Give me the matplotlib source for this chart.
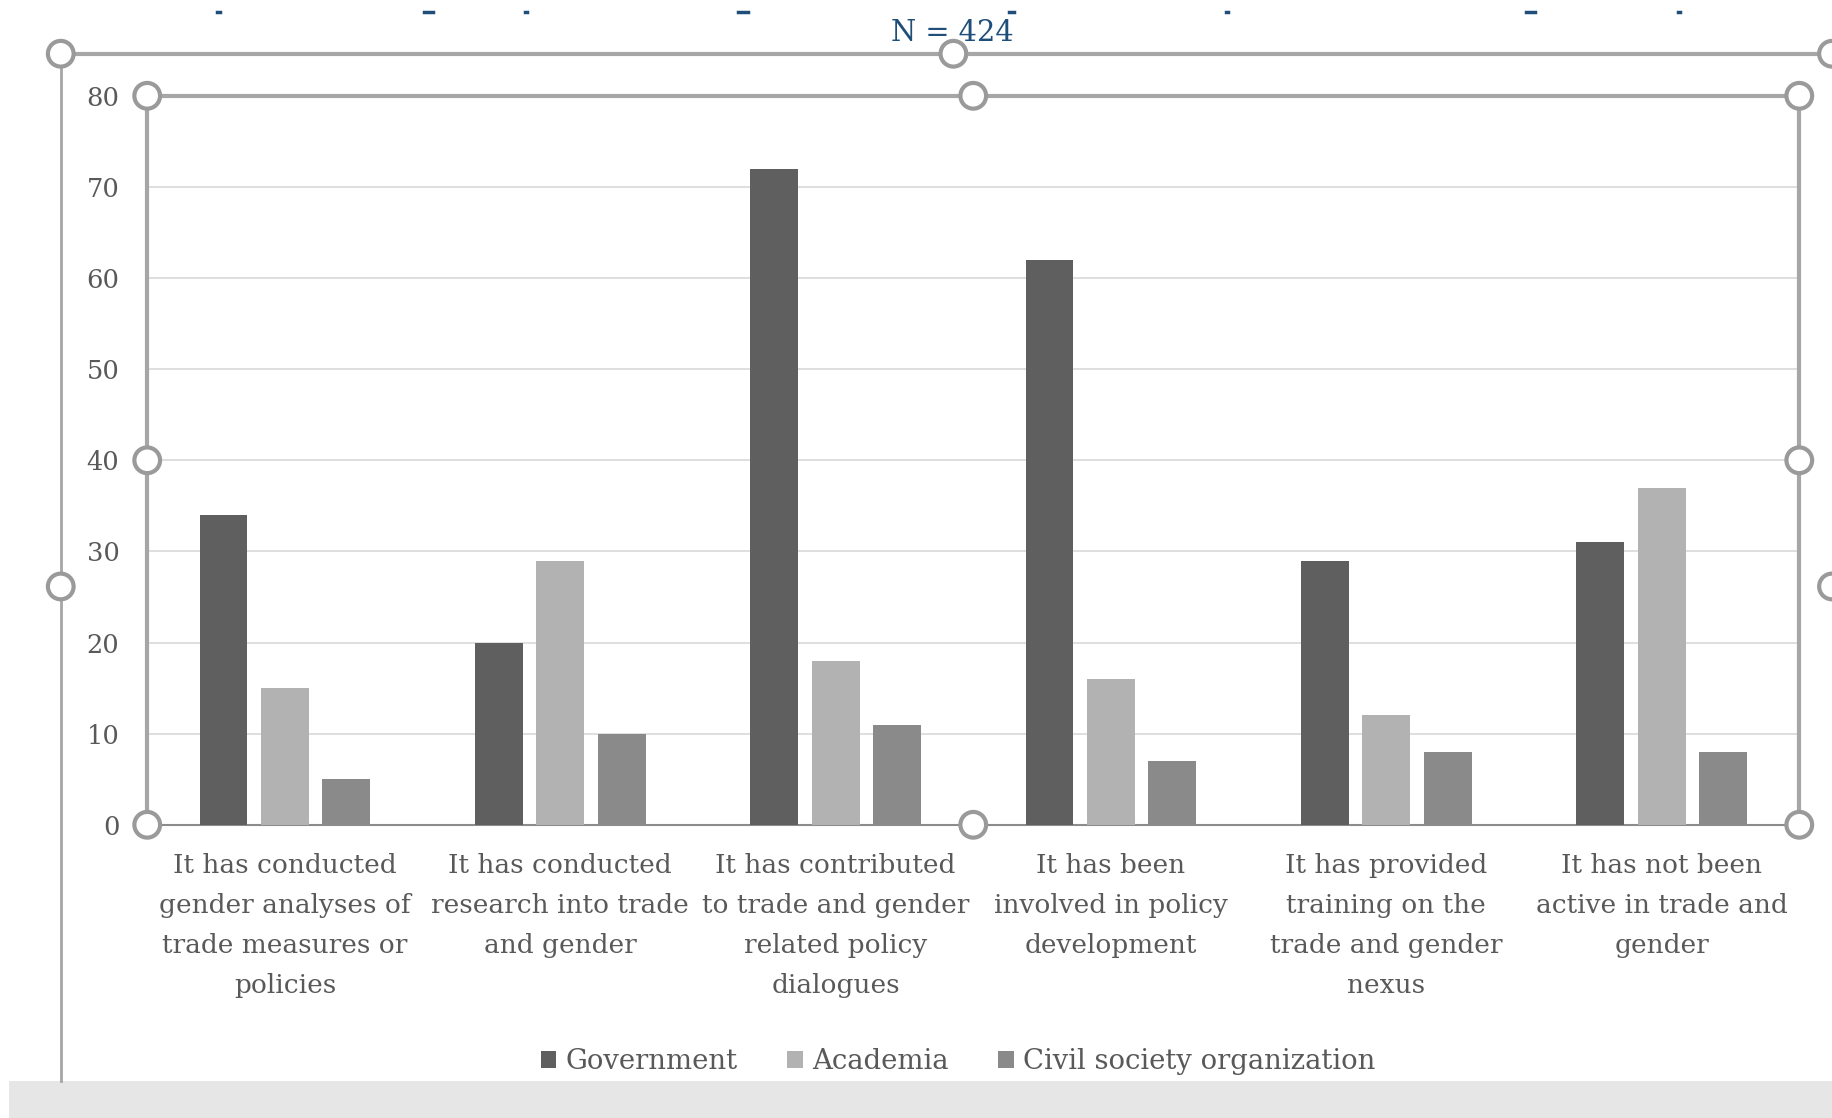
import matplotlib
matplotlib.use("Agg")
import matplotlib.pyplot as plt
import numpy as np
from matplotlib.patches import Ellipse, Rectangle, Patch
from matplotlib.lines import Line2D

categories = [
    "It has conducted\ngender analyses of\ntrade measures or\npolicies",
    "It has conducted\nresearch into trade\nand gender",
    "It has contributed\nto trade and gender\nrelated policy\ndialogues",
    "It has been\ninvolved in policy\ndevelopment",
    "It has provided\ntraining on the\ntrade and gender\nnexus",
    "It has not been\nactive in trade and\ngender",
]
series_names = ["Government", "Academia", "Civil society organization"]
government = [34, 20, 72, 62, 29, 31]
academia = [15, 29, 18, 16, 12, 37]
civil = [5, 10, 11, 7, 8, 8]
yticks = [0, 10, 20, 30, 40, 50, 60, 70, 80]
title = "N = 424"

colors = ["#5f5f5f", "#b2b2b2", "#8a8a8a"]
TXT = "#595959"
SERIF = ["DejaVu Serif"]

W, H = 1568.0, 957.0
def fx(x): return x / W
def fy(y): return 1 - y / H

fig = plt.figure(figsize=(18.32, 11.18), dpi=100)
fig.patch.set_facecolor("white")

ax = fig.add_axes([fx(126), fy(706), fx(1540) - fx(126), fy(82) - fy(706)])
x = np.arange(len(categories))
bw = 0.174
step = 0.223
for i, (vals, c, n) in enumerate(zip([government, academia, civil], colors, series_names)):
    ax.bar(x + (i - 1) * step, vals, width=bw, color=c, label=n, zorder=3)

ax.set_xlim(-0.5, len(categories) - 0.5)
ax.set_ylim(0, 80)
ax.set_yticks(yticks)
ax.set_yticklabels([str(v) for v in yticks], fontfamily=SERIF, fontsize=18.5, color=TXT)
ax.set_xticks(x)
ax.set_xticklabels(categories, fontfamily=SERIF, fontsize=19, color=TXT, linespacing=1.75)
ax.tick_params(axis="both", length=0)
ax.tick_params(axis="x", pad=20)
ax.tick_params(axis="y", pad=20)
ax.grid(axis="y", color="#d9d9d9", linewidth=1.2, zorder=0)
for s in ["left", "right", "top"]:
    ax.spines[s].set_color("#a6a6a6")
    ax.spines[s].set_linewidth(3)
ax.spines["bottom"].set_color("#8c8c8c")
ax.spines["bottom"].set_linewidth(1.5)

# outer chart-area frame (selection look)
fig.add_artist(Line2D([fx(52), fx(52)], [fy(46), fy(925)], color="#a6a6a6", lw=2))
fig.add_artist(Line2D([fx(52), 1.0], [fy(46), fy(46)], color="#a6a6a6", lw=3))
fig.add_artist(Rectangle((fx(8), 0), 1 - fx(8), fy(925), transform=fig.transFigure,
                         facecolor="#e6e6e6", edgecolor="none"))

def handle(xp, yp):
    fig.add_artist(Ellipse((fx(xp), fy(yp)), 22 / W, 22 / H, transform=fig.transFigure,
                           facecolor="white", edgecolor="#9a9a9a", lw=3, zorder=10))

for (hx, hy) in [(126, 82), (833, 82), (1540, 82), (126, 394), (1540, 394),
                 (126, 706), (833, 706), (1540, 706),
                 (52, 46), (816, 46), (52, 502), (1568, 46), (1568, 502)]:
    handle(hx, hy)

fig.text(fx(815), fy(28), title, ha="center", va="center", fontfamily=SERIF,
         fontsize=20.8, color="#1f4e79")

# clipped remnants of text above
for mx, mw in [(187, 2), (367, 8), (450, 2), (636, 8), (866, 4), (1050, 2), (1310, 8), (1437, 2)]:
    fig.add_artist(Line2D([fx(mx - mw / 2), fx(mx + mw / 2)], [fy(10), fy(10)],
                          color="#1f4e79", lw=2.5))

handles = [Patch(facecolor=c, edgecolor="none") for c in colors]
leg = fig.legend(handles, series_names, loc="center", bbox_to_anchor=(fx(820), fy(909)),
                 ncol=3, frameon=False, handlelength=0.58, handleheight=0.58,
                 handletextpad=0.33, columnspacing=1.8,
                 prop={"family": SERIF, "size": 19.8})
for t in leg.get_texts():
    t.set_color(TXT)

fig.savefig("out.png", dpi=100, facecolor="white")
